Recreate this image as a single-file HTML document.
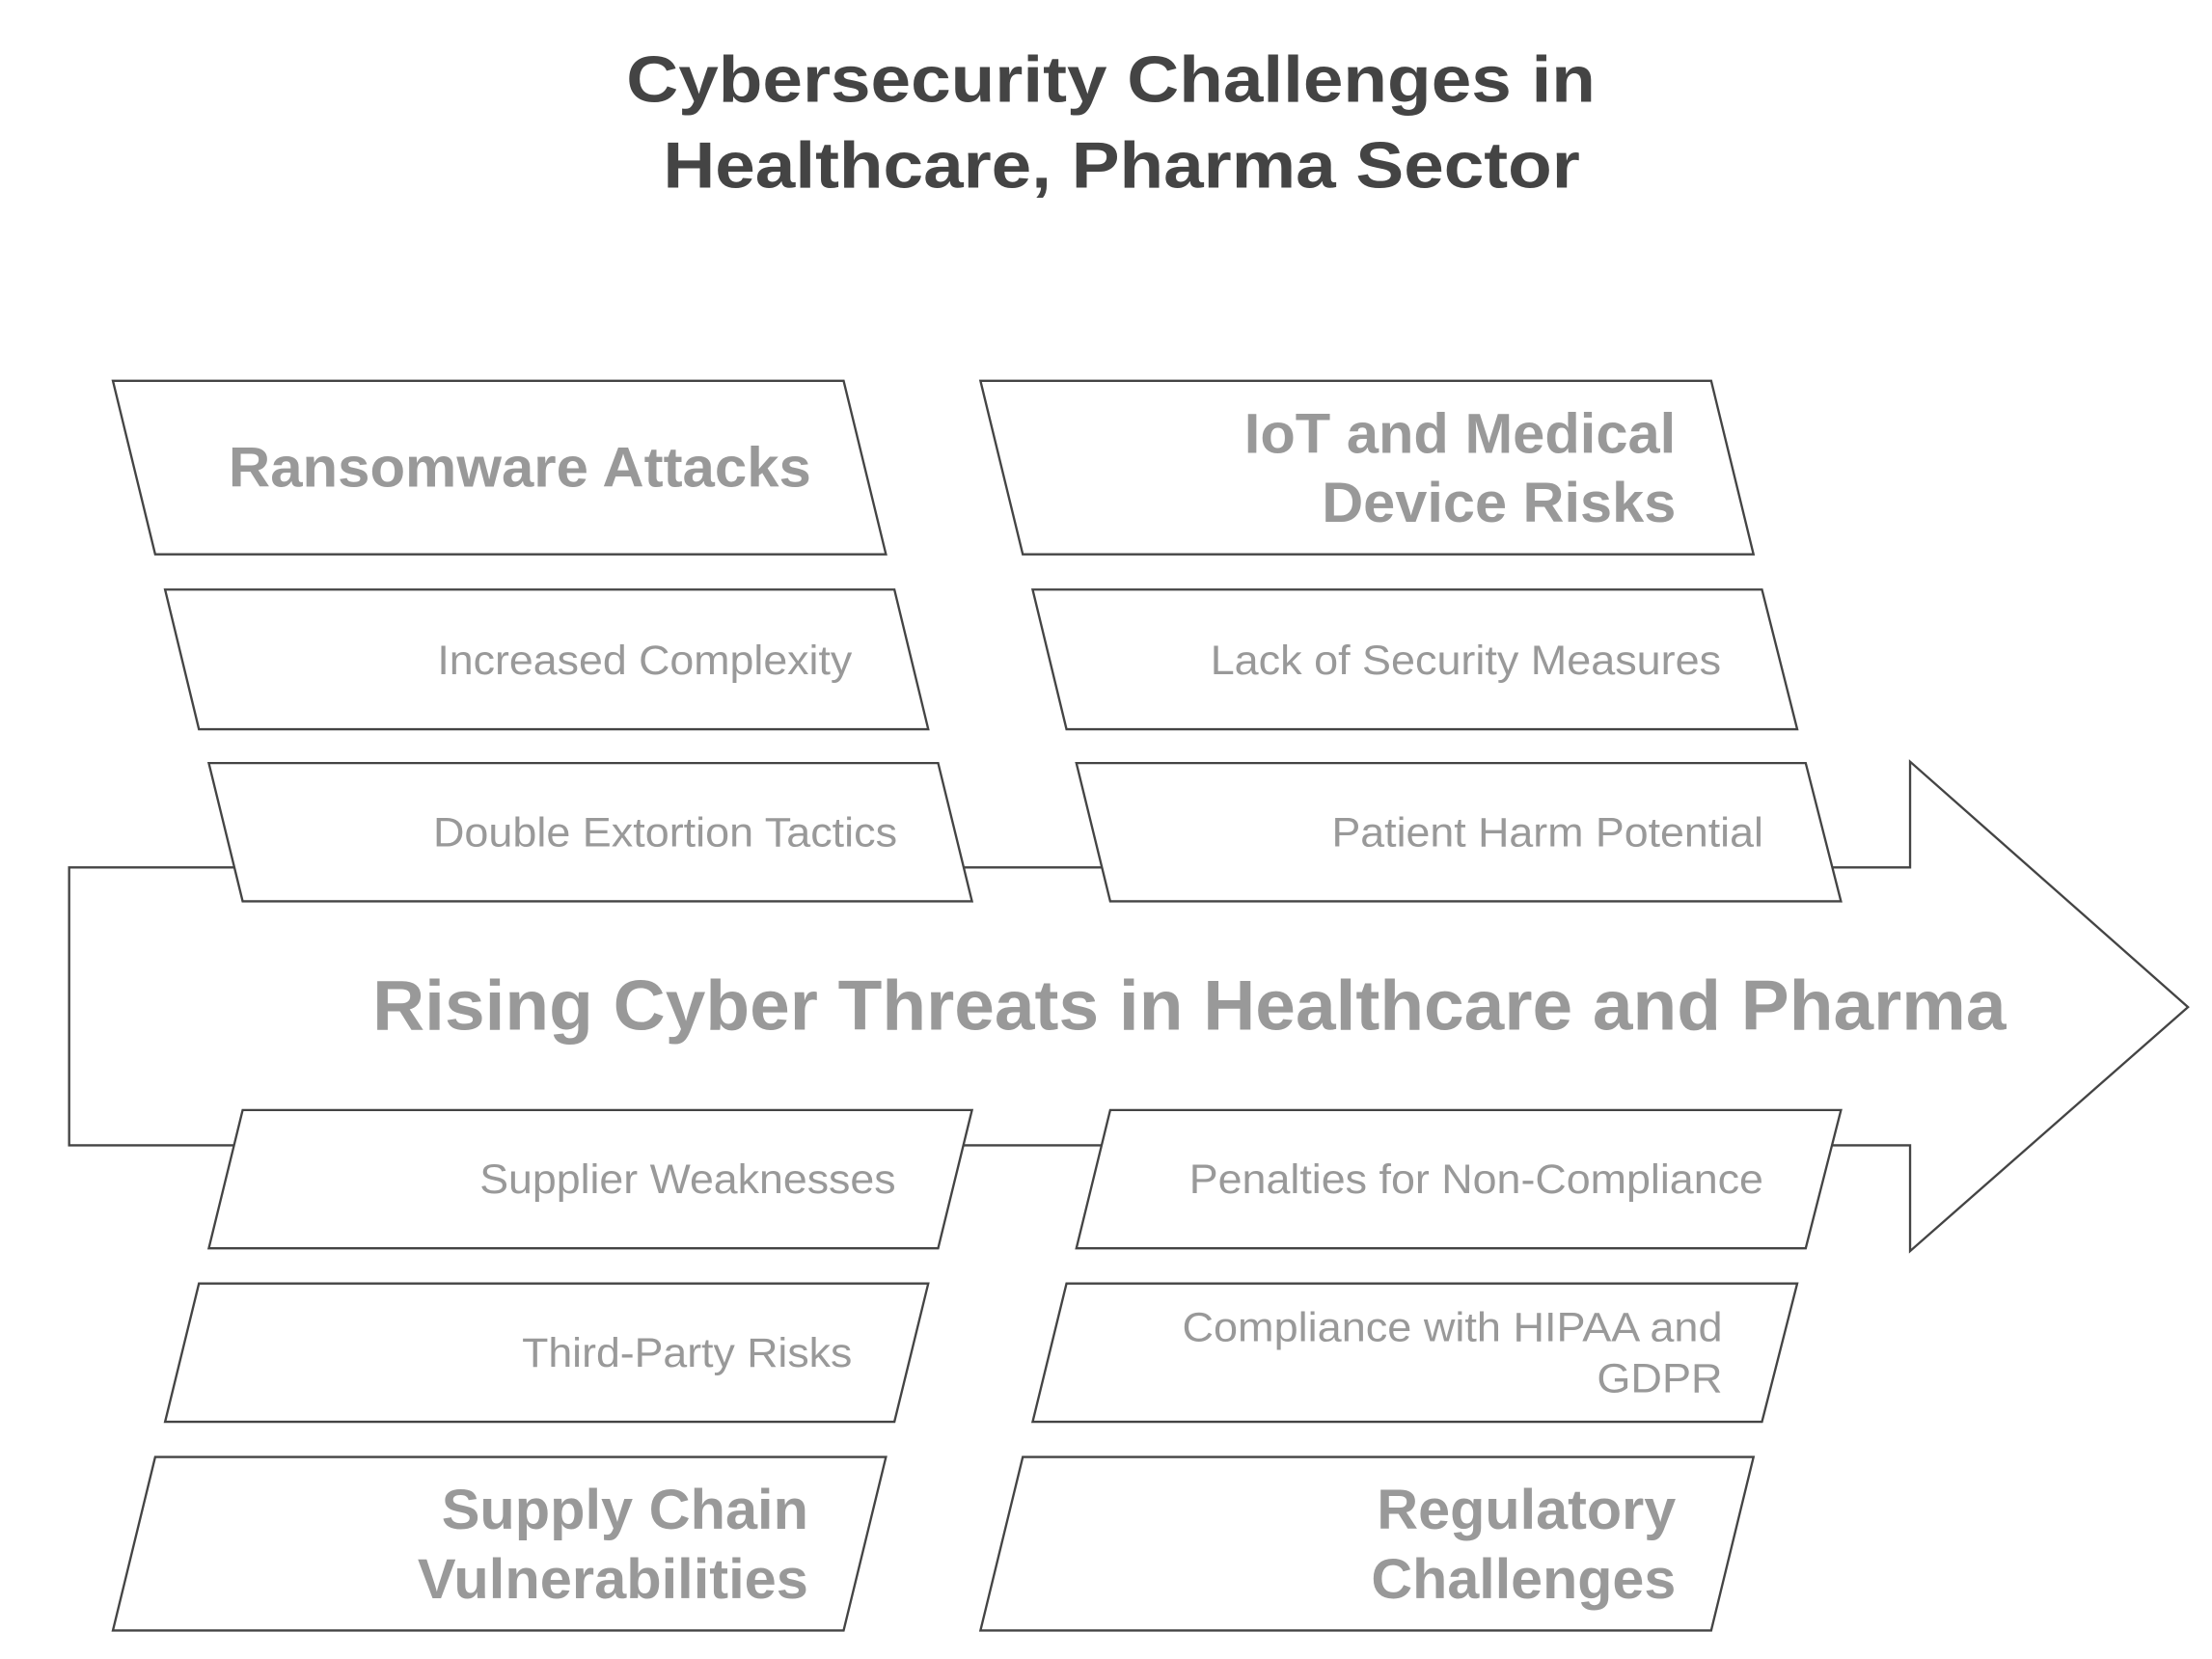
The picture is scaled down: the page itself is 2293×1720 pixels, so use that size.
<!DOCTYPE html>
<html><head><meta charset="utf-8"><style>
html,body{margin:0;padding:0;background:#fff;}
svg{display:block;}
text{font-family:"Liberation Sans",Arial,sans-serif;}
</style></head><body>
<svg width="2293" height="1720" viewBox="0 0 1568 1176.2" xmlns="http://www.w3.org/2000/svg">
<rect width="1568" height="1177" fill="#fff"/>
<g font-weight="bold" fill="#444" font-size="46" lengthAdjust="spacingAndGlyphs">
<text x="444" y="72" textLength="687" lengthAdjust="spacingAndGlyphs">Cybersecurity Challenges in</text>
<text x="470" y="133" textLength="650" lengthAdjust="spacingAndGlyphs">Healthcare, Pharma Sector</text>
</g>
<polygon points="49,615 1354,615 1354,540 1551,714 1354,887 1354,812 49,812" fill="#fff" stroke="#444" stroke-width="1.6"/>
<text x="264" y="730" font-weight="bold" font-size="50" fill="#999" textLength="1158" lengthAdjust="spacingAndGlyphs">Rising Cyber Threats in Healthcare and Pharma</text>
<g fill="#fff" stroke="#444" stroke-width="1.6">
<polygon points="80,270 598,270 628,393 110,393"/>
<polygon points="695,270 1213,270 1243,393 725,393"/>
<polygon points="117,418 634,418 658,517 141,517"/>
<polygon points="732,418 1249,418 1274,517 756,517"/>
<polygon points="148,541 665,541 689,639 172,639"/>
<polygon points="763,541 1280,541 1305,639 787,639"/>
<polygon points="172,787 689,787 665,885 148,885"/>
<polygon points="787,787 1305,787 1280,885 763,885"/>
<polygon points="141,910 658,910 634,1008 117,1008"/>
<polygon points="756,910 1274,910 1249,1008 732,1008"/>
<polygon points="110,1033 628,1033 598,1156 80,1156"/>
<polygon points="725,1033 1243,1033 1213,1156 695,1156"/>
</g>
<g font-weight="bold" fill="#999" font-size="40">
<text x="162" y="345" textLength="413" lengthAdjust="spacingAndGlyphs">Ransomware Attacks</text>
<text x="882" y="321" textLength="306" lengthAdjust="spacingAndGlyphs">IoT and Medical</text>
<text x="937" y="370" textLength="251" lengthAdjust="spacingAndGlyphs">Device Risks</text>
<text x="313" y="1084" textLength="260" lengthAdjust="spacingAndGlyphs">Supply Chain</text>
<text x="296" y="1133" textLength="277" lengthAdjust="spacingAndGlyphs">Vulnerabilities</text>
<text x="976" y="1084" textLength="212" lengthAdjust="spacingAndGlyphs">Regulatory</text>
<text x="972" y="1133" textLength="216" lengthAdjust="spacingAndGlyphs">Challenges</text>
</g>
<g fill="#999" font-size="29">
<text x="310" y="478" textLength="294" lengthAdjust="spacingAndGlyphs">Increased Complexity</text>
<text x="858" y="478" textLength="362" lengthAdjust="spacingAndGlyphs">Lack of Security Measures</text>
<text x="307" y="600" textLength="329" lengthAdjust="spacingAndGlyphs">Double Extortion Tactics</text>
<text x="944" y="600" textLength="306" lengthAdjust="spacingAndGlyphs">Patient Harm Potential</text>
<text x="340" y="846" textLength="295" lengthAdjust="spacingAndGlyphs">Supplier Weaknesses</text>
<text x="843" y="846" textLength="407" lengthAdjust="spacingAndGlyphs">Penalties for Non-Compliance</text>
<text x="370" y="969" textLength="234" lengthAdjust="spacingAndGlyphs">Third-Party Risks</text>
<text x="838" y="951" textLength="383" lengthAdjust="spacingAndGlyphs">Compliance with HIPAA and</text>
<text x="1132" y="987" textLength="89" lengthAdjust="spacingAndGlyphs">GDPR</text>
</g>
</svg>
</body></html>
